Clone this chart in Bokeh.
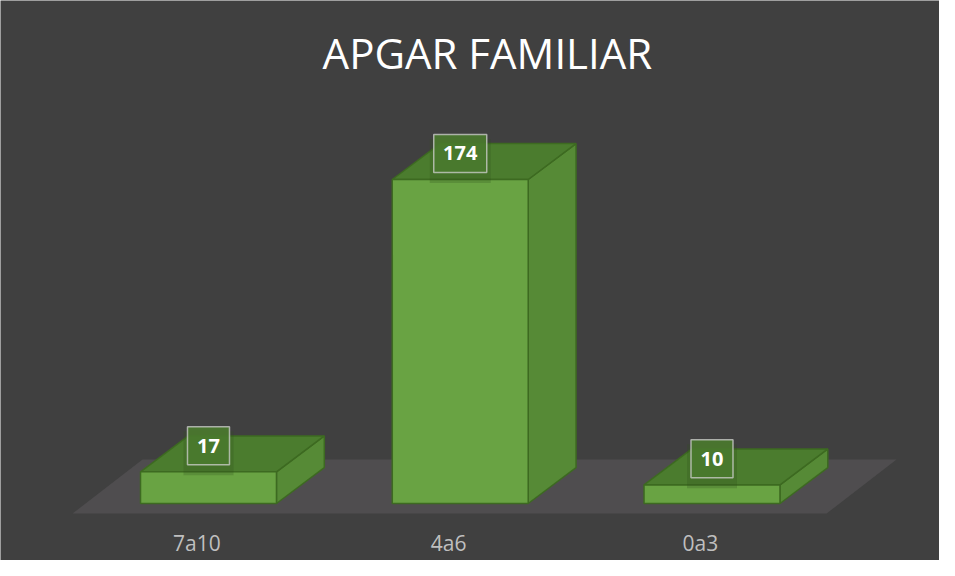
from bokeh.plotting import figure
from bokeh.models import Range1d, Label, ColumnDataSource
from bokeh.core.properties import value
from bokeh.embed import file_html
from bokeh.resources import INLINE

# ---- data ----
categories = ["7a10", "4a6", "0a3"]
counts = [17, 174, 10]
title_text = "APGAR FAMILIAR"

# ---- style constants (data units) ----
HALF = 0.27        # half bar width (category units)
DX = 0.19          # depth offset x
DY = 19.3          # depth offset y (value units)
LABEL_GAP = 14.0   # label centre above bar top
CAT_SHIFT = -0.046 # category label shift (perspective)
CAT_Y = -21.3      # category label position (value units)

FRONT = "#69a343"
SIDE = "#568a36"
TOP = "#4b7c2e"
EDGE = "#3d6a21"
BG = "#404040"
FLOOR = "#4f4d4f"

idx = list(range(len(categories)))
n = len(categories)

p = figure(width=939, height=560, output_backend="svg", toolbar_location=None,
           x_range=Range1d(-0.8262, 2.9037), y_range=Range1d(-30.61, 270.14),
           x_axis_location=None, y_axis_location=None,
           min_border_left=0, min_border_right=0, min_border_top=0, min_border_bottom=0,
           background_fill_color=BG, border_fill_color=BG, outline_line_color=None)
p.grid.visible = False

# floor
fl_x = [-0.54, n - 0.545, n - 0.267, -0.262]
fl_y = [-5.4, -5.4, 23.6, 23.6]
p.patch(fl_x, fl_y, fill_color=FLOOR, line_color=None)

# bar faces
side_xs = [[i + HALF, i + HALF + DX, i + HALF + DX, i + HALF] for i in idx]
side_ys = [[0, DY, v + DY, v] for v in counts]
top_xs = [[i - HALF, i + HALF, i + HALF + DX, i - HALF + DX] for i in idx]
top_ys = [[v, v, v + DY, v + DY] for v in counts]
p.patches(side_xs, side_ys, fill_color=SIDE, line_color=EDGE, line_width=1.5)
p.patches(top_xs, top_ys, fill_color=TOP, line_color=EDGE, line_width=1.5)
p.quad(left=[i - HALF for i in idx], right=[i + HALF for i in idx],
       bottom=[0] * n, top=counts, fill_color=FRONT, line_color=EDGE, line_width=1.5)

# data labels (with soft shadow)
lab = ColumnDataSource(dict(x=idx, y=[v + LABEL_GAP for v in counts],
                            ys=[v + LABEL_GAP - 4 for v in counts],
                            t=[str(v) for v in counts],
                            w=[20 + 11 * len(str(v)) for v in counts],
                            ws=[28 + 11 * len(str(v)) for v in counts]))
p.rect(x="x", y="ys", width="ws", height=44, width_units="screen", height_units="screen",
       source=lab, fill_color="#2f4f1c", fill_alpha=0.25, line_color=None)
p.rect(x="x", y="y", width="w", height=38, width_units="screen", height_units="screen",
       source=lab, fill_color="#4a7a2e", fill_alpha=0.9,
       line_color="#d0d0d0", line_alpha=0.75, line_width=1.5)
p.text(x="x", y="y", text="t", source=lab, text_align="center", text_baseline="middle",
       text_color="white", text_font=value("Open Sans"), text_font_style="bold",
       text_font_size="20px")

# category labels
cat = ColumnDataSource(dict(x=[i + CAT_SHIFT for i in idx], y=[CAT_Y] * n, t=categories))
p.text(x="x", y="y", text="t", source=cat, text_align="center", text_baseline="middle",
       text_color="#bfbfbf", text_font=value("Open Sans"), text_font_size="21px")

# title
p.add_layout(Label(x=1.108, y=242, text=title_text, text_align="center",
                   text_baseline="middle", text_color="white",
                   text_font="Open Sans", text_font_size="42px"))

open("out.html", "w").write(file_html(p, INLINE))
